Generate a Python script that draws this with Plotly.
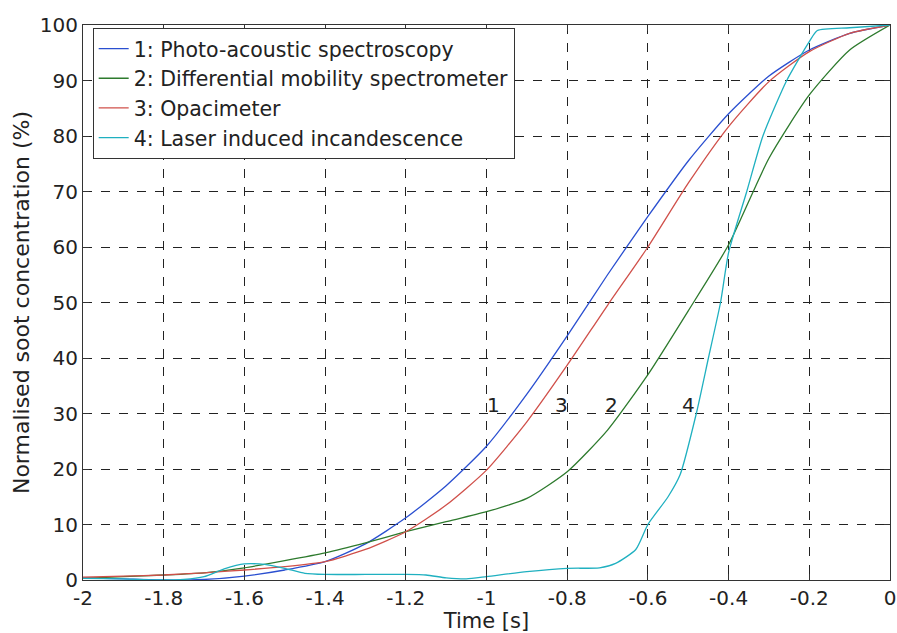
import plotly.graph_objects as go

# ---- data ----
t_common = [-2, -1.9, -1.8, -1.7, -1.6, -1.5, -1.4, -1.3, -1.2, -1.1, -1.0,
            -0.9, -0.8, -0.7, -0.6, -0.5, -0.4, -0.3, -0.2, -0.1, 0]
pas = [0.4, 0.2, 0.0, 0.1, 0.7, 1.8, 3.3, 6.5, 11.2, 17.0, 24.1,
       33.5, 44.0, 55.0, 65.5, 75.5, 84.0, 90.8, 95.5, 98.5, 100]
dms = [0.3, 0.6, 0.9, 1.3, 2.2, 3.5, 4.9, 6.7, 8.7, 10.5, 12.3,
       14.7, 19.5, 27.0, 37.0, 48.5, 60.4, 76.0, 87.4, 95.5, 100]
opa = [0.5, 0.7, 0.9, 1.3, 1.8, 2.4, 3.3, 5.5, 8.7, 13.5, 19.8,
       28.5, 38.7, 49.5, 60.0, 71.5, 81.7, 89.8, 95.2, 98.5, 100]
t_lii = [-2, -1.9, -1.8, -1.75, -1.7, -1.65, -1.6, -1.55, -1.5, -1.45, -1.4,
         -1.3, -1.2, -1.15, -1.1, -1.05, -1.0, -0.9, -0.8, -0.72, -0.68,
         -0.63, -0.6, -0.55, -0.52, -0.48, -0.45, -0.42, -0.4, -0.355,
         -0.315, -0.256, -0.2, -0.18, -0.1, 0]
lii = [0.3, 0.2, 0.0, 0.1, 0.6, 2.0, 2.9, 2.8, 2.1, 1.2, 1.0,
       1.0, 1.0, 0.9, 0.4, 0.2, 0.6, 1.5, 2.1, 2.2, 3.0,
       5.5, 10.0, 15.0, 19.0, 30.0, 40.0, 50.0, 59.0, 70.0,
       80.0, 90.0, 97.0, 99.0, 99.5, 100]

names = ["1: Photo-acoustic spectroscopy",
         "2: Differential mobility spectrometer",
         "3: Opacimeter",
         "4: Laser induced incandescence"]
colors = ["#2a4fd0", "#2d7a2d", "#d0504a", "#1fb0c0"]

curve_labels = ["1", "3", "2", "4"]
label_t = [-0.983, -0.815, -0.69, -0.5]
label_y = [31.5, 31.5, 31.5, 31.5]

x_ticks = [-2, -1.8, -1.6, -1.4, -1.2, -1, -0.8, -0.6, -0.4, -0.2, 0]
x_ticktext = ["-2", "-1.8", "-1.6", "-1.4", "-1.2", "-1", "-0.8", "-0.6", "-0.4", "-0.2", "0"]
y_ticks = [0, 10, 20, 30, 40, 50, 60, 70, 80, 90, 100]

FONT = "DejaVu Sans"
TXT = "#222222"

fig = go.Figure()
series = [(t_common, pas), (t_common, dms), (t_common, opa), (t_lii, lii)]
for i, (xs, ys) in enumerate(series):
    fig.add_trace(go.Scatter(x=xs, y=ys, mode="lines", name=names[i],
                             line=dict(color=colors[i], width=1.3, shape="spline",
                                       smoothing=0.6)))

for lab, lx, ly in zip(curve_labels, label_t, label_y):
    fig.add_annotation(x=lx, y=ly, text=lab, showarrow=False,
                       font=dict(family=FONT, size=20, color=TXT))

axis_common = dict(showline=True, linecolor="#333333", linewidth=1, mirror="ticks",
                   ticks="inside", ticklen=6, tickcolor="#333333",
                   showgrid=True, gridcolor="#222222", gridwidth=1, griddash="dash",
                   zeroline=False, automargin=False,
                   tickfont=dict(family=FONT, size=20, color=TXT))

fig.update_xaxes(range=[-2, 0], tickvals=x_ticks, ticktext=x_ticktext,
                 title=dict(text="Time [s]", font=dict(family=FONT, size=21, color=TXT),
                            standoff=0),
                 **axis_common)
fig.update_yaxes(range=[0, 100], tickvals=y_ticks,
                 title=dict(text="Normalised soot concentration (%)",
                            font=dict(family=FONT, size=22, color=TXT), standoff=4),
                 **axis_common)

fig.update_layout(
    width=897, height=633,
    margin=dict(l=83, r=7, t=25, b=53),
    plot_bgcolor="white", paper_bgcolor="white",
    showlegend=True,
    legend=dict(x=0.012, y=0.995, xanchor="left", yanchor="top",
                bgcolor="white", bordercolor="#333333", borderwidth=1,
                font=dict(family=FONT, size=20.5, color=TXT),
                tracegroupgap=0, itemwidth=30),
)

fig.write_html("out.html",
               config={"displayModeBar": False},
               post_script="document.body.style.margin='0px';"
                           "document.body.style.overflow='hidden';")
